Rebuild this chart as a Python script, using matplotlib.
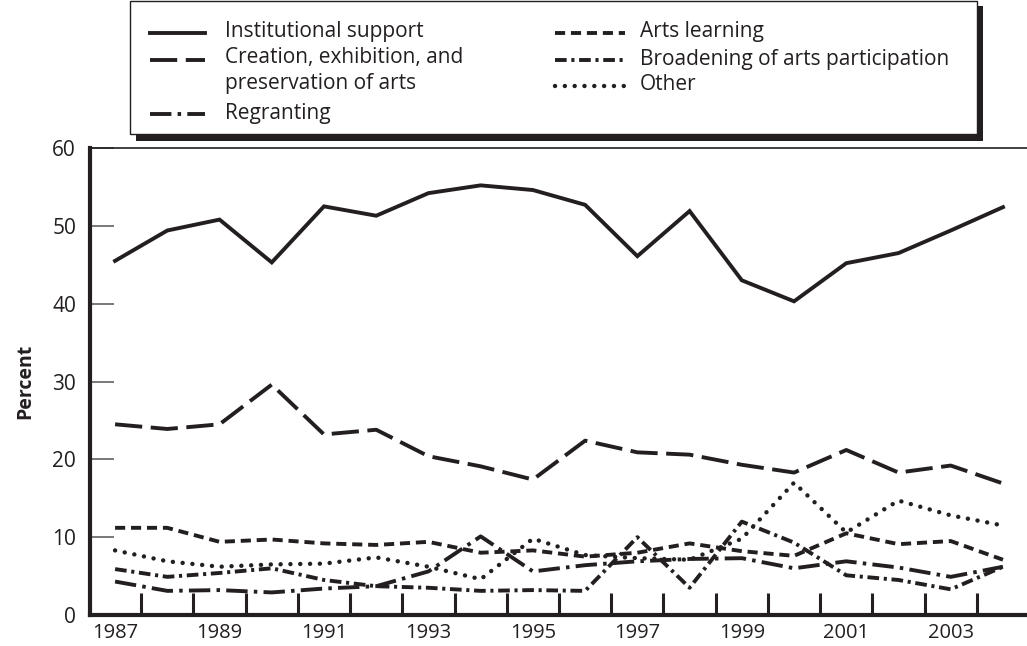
import numpy as np
import matplotlib.pyplot as plt
from matplotlib.patches import Rectangle

plt.rcParams['font.family'] = ['Open Sans', 'DejaVu Sans']

INK = '#231f20'

years = list(range(1987, 2005))

institutional = [45.5, 49.4, 50.8, 45.3, 52.5, 51.3, 54.2, 55.2, 54.6,
                 52.7, 46.1, 51.9, 43.0, 40.3, 45.2, 46.5, 49.4, 52.4]
creation = [24.5, 23.9, 24.5, 29.6, 23.2, 23.8, 20.4, 19.1, 17.4,
            22.4, 20.9, 20.6, 19.3, 18.3, 21.2, 18.3, 19.2, 16.9]
regranting = [4.3, 3.1, 3.2, 2.9, 3.4, 3.7, 5.6, 10.1, 5.6,
              6.4, 6.9, 7.2, 7.3, 6.0, 6.9, 6.1, 4.9, 6.2]
arts_learning = [11.2, 11.2, 9.4, 9.7, 9.2, 9.0, 9.4, 8.0, 8.3,
                 7.5, 8.0, 9.2, 8.2, 7.6, 10.5, 9.1, 9.5, 7.1]
broadening = [5.9, 4.9, 5.4, 6.0, 4.5, 3.7, 3.5, 3.1, 3.2,
              3.1, 10.0, 3.5, 12.0, 9.3, 5.1, 4.5, 3.3, 6.2]
other = [8.3, 6.9, 6.2, 6.5, 6.6, 7.4, 6.2, 4.6, 9.8,
         7.7, 7.3, 7.1, 9.8, 17.0, 10.6, 14.7, 12.8, 11.5]

labels = ['Institutional support',
          'Creation, exhibition, and\npreservation of arts',
          'Regranting',
          'Arts learning',
          'Broadening of arts participation',
          'Other']
series = [institutional, creation, regranting, arts_learning, broadening, other]

# dash patterns (in line widths)
styles = [dict(ls='-', lw=2.8),
          dict(ls=(0, (7, 2.2)), lw=2.8),
          dict(ls=(0, (5.5, 1.6, 0.9, 1.6)), lw=2.8),
          dict(ls=(0, (2.6, 1.5)), lw=2.8),
          dict(ls=(0, (3, 1.2, 0.8, 1.2)), lw=2.8),
          dict(ls=(0, (0.01, 2.2)), lw=3.2, dash_capstyle='round')]

W, H = 1027, 646
fig = plt.figure(figsize=(W / 100, H / 100), dpi=100)

# main axes, placed in pixel terms
x0, x1, ytop, ybot = 90, 1027, 148, 615
ax = fig.add_axes([x0 / W, (H - ybot) / H, (x1 - x0) / W, (ybot - ytop) / H])

for vals, st in zip(series, styles):
    ax.plot(years, vals, color=INK, solid_joinstyle='miter', **st)

ax.set_xlim(1986.52, 2004.46)
ax.set_ylim(0, 60)

ax.spines['right'].set_visible(False)
ax.spines['left'].set_linewidth(3)
ax.spines['bottom'].set_linewidth(3)
ax.spines['top'].set_linewidth(1.2)
for s in ax.spines.values():
    s.set_color(INK)

ax.set_yticks(range(0, 61, 10))
ax.tick_params(axis='y', direction='in', length=17, width=1.1, color='#555555',
               labelsize=15, labelcolor=INK, pad=10)

ax.set_xticks(np.arange(1987.5, 2004, 1.0))
ax.set_xticks(range(1987, 2005, 2), minor=True)
ax.set_xticklabels(range(1987, 2005, 2), minor=True)
ax.tick_params(axis='x', which='major', direction='in', length=16, width=2.2,
               color=INK, labelbottom=False)
ax.tick_params(axis='x', which='minor', length=0, labelsize=14.5,
               labelcolor=INK, pad=6)

ax.set_ylabel('Percent', fontsize=14, fontweight='bold', color=INK, labelpad=12)

# legend box drawn in pixel space
lg = fig.add_axes([0, 0, 1, 1], zorder=5)
lg.set_xlim(0, W)
lg.set_ylim(H, 0)
lg.axis('off')
lg.add_patch(Rectangle((136, 6), 847, 135, facecolor=INK, edgecolor='none'))
lg.add_patch(Rectangle((130, 1), 847, 133, facecolor='white', edgecolor=INK, lw=1))

rows = [(150, 205, 225, 33, 0), (150, 205, 225, 60, 1), (150, 205, 225, 114, 2),
        (555, 625, 640, 33, 3), (555, 625, 640, 60, 4), (555, 625, 640, 86, 5)]
for xa, xb, xt, yy, i in rows:
    lg.plot([xa, xb], [yy, yy], color=INK, **styles[i])
    lg.text(xt, yy - 1 if i != 1 else yy - 13, labels[i], fontsize=15, color=INK,
            va='center' if i != 1 else 'top', linespacing=1.3)

fig.savefig('out.png', dpi=100)
